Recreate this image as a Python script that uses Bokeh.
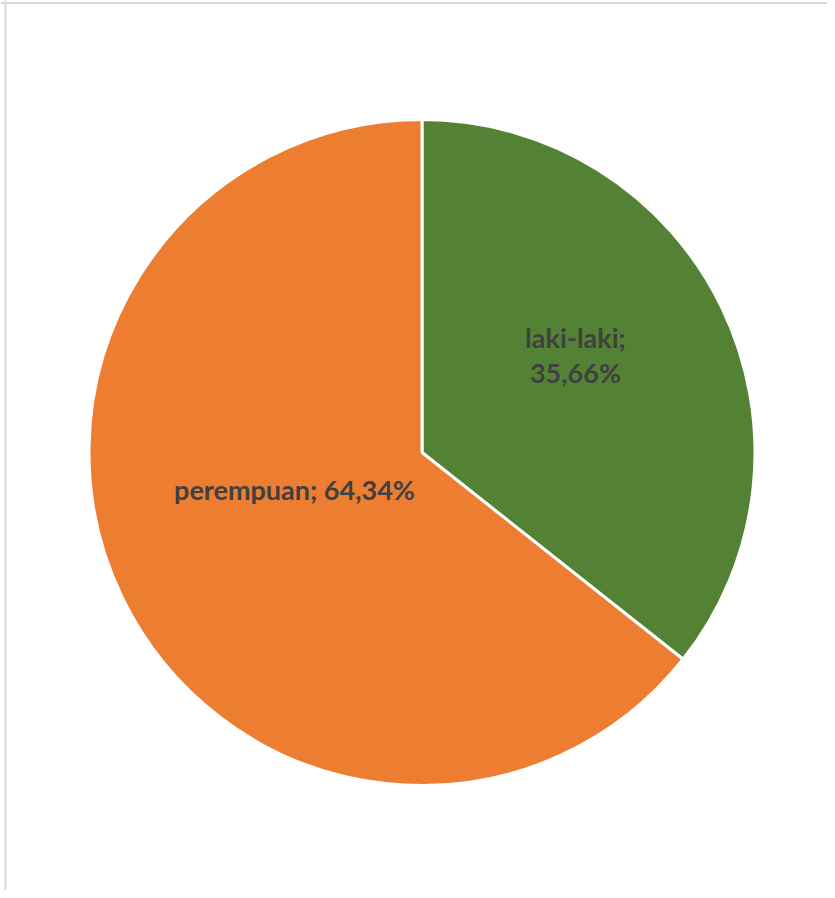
import math
from bokeh.plotting import figure
from bokeh.models import Range1d, Span, ColumnDataSource
from bokeh.core.properties import value
from bokeh.embed import file_html
from bokeh.resources import INLINE

# ---- data ----
categories = ["laki-laki", "perempuan"]
percentages = [35.66, 64.34]
colors = ["#548235", "#ED7D31"]

# ---- layout (pixel-mapped data space, y measured from top via H - y) ----
W, H = 827, 890
CX, CY = 421.5, H - 452.0   # pie centre
R = 333.0

p = figure(width=W, height=H, x_range=Range1d(0, W), y_range=Range1d(0, H),
           output_backend="svg", toolbar_location=None, min_border=0)
p.axis.visible = False
p.grid.visible = False
p.outline_line_color = None
p.background_fill_color = "white"
p.border_fill_color = "white"

# slices, clockwise from 12 o'clock
total = sum(percentages)
starts, ends = [], []
a = math.pi / 2
for v in percentages:
    starts.append(a)
    a -= v / total * 2 * math.pi
    ends.append(a)

src = ColumnDataSource(dict(cat=categories, val=percentages, start=starts, end=ends, color=colors))
p.wedge(x=CX, y=CY, radius=R, start_angle="start", end_angle="end", direction="clock",
        fill_color="color", line_color="white", line_width=3, source=src)

# labels
def fmt(v):
    return f"{v:.2f}".replace(".", ",") + "%"

FS = "27px"
FONT = value("Lato")
TC = "#404040"
# laki-laki: two lines
lx, ly = 575, H - 355
p.text(x=[lx], y=[ly + 18], text=[categories[0] + ";"], text_align="center", text_baseline="middle",
       text_font=FONT, text_font_style="bold", text_font_size=FS, text_color=TC)
p.text(x=[lx], y=[ly - 17], text=[fmt(percentages[0])], text_align="center", text_baseline="middle",
       text_font=FONT, text_font_style="bold", text_font_size=FS, text_color=TC)
# perempuan: one line
px, py = 294, H - 489
p.text(x=[px], y=[py], text=[categories[1] + "; " + fmt(percentages[1])], text_align="center",
       text_baseline="middle", text_font=FONT, text_font_style="bold",
       text_font_size=FS, text_color=TC)

# light frame (top and left)
p.add_layout(Span(location=H - 2.5, dimension="width", line_color="#d9d9d9", line_width=2))
p.add_layout(Span(location=5, dimension="height", line_color="#d9d9d9", line_width=2))

open("out.html", "w").write(file_html(p, INLINE))
